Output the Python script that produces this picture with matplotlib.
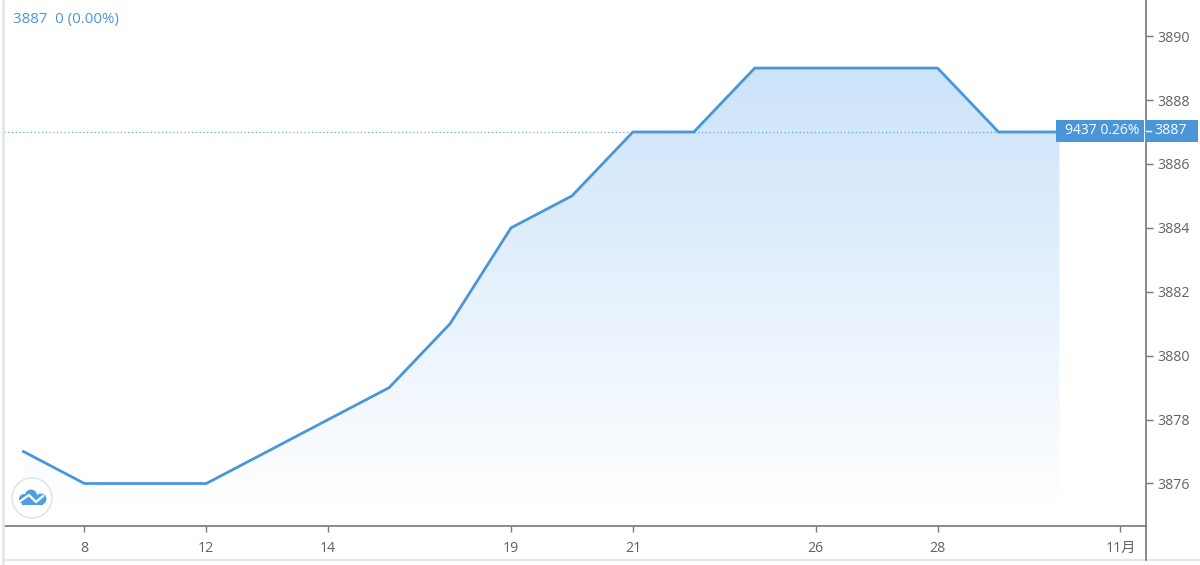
import numpy as np
import matplotlib
matplotlib.use('Agg')
import matplotlib.pyplot as plt
from matplotlib.patches import Circle, Polygon, Rectangle

plt.rcParams['font.family'] = ['Open Sans', 'Noto Sans CJK SC', 'DejaVu Sans']

# one point per trading day
prices = [3877, 3876, 3876, 3876, 3877, 3878, 3879, 3881, 3884,
          3885, 3887, 3887, 3889, 3889, 3889, 3889, 3887, 3887]
x_tick_pos = [1, 3, 5, 8, 10, 13, 15, 18]
x_tick_labels = ['8', '12', '14', '19', '21', '26', '28', '11月']
y_ticks = [3876, 3878, 3880, 3882, 3884, 3886, 3888, 3890]
last_price = 3887
header_text = '3887  0 (0.00%)'
volume_text = '9437 0.26%'

BLUE = '#4a96d9'
GREY = '#5f6368'
AXIS = '#74777c'
W, H = 1200, 565

fig = plt.figure(figsize=(12, 5.65), dpi=100)
ax = fig.add_axes([4 / W, 1 - 526 / H, (1146 - 4) / W, 526 / H])
days = np.arange(len(prices))
xlim = (-0.32, 18.42)
ylim = (3874.67, 3891.13)

# gradient under the line, light blue fading to white
base = ylim[0]
top = max(prices)
fade = np.linspace(0, 1, 256).reshape(-1, 1, 1)
colors = np.array([0.80, 0.89, 0.98]) * (1 - fade) + np.array([1.0, 1.0, 1.0]) * fade
img = ax.imshow(colors, extent=[days[0], days[-1], 3875.2, top], origin='upper',
                aspect='auto', zorder=1)
area = Polygon(list(zip(days, prices)) + [(days[-1], base), (days[0], base)],
               closed=True, transform=ax.transData, fc='none', ec='none')
ax.add_patch(area)
img.set_clip_path(area)
ax.set_xlim(xlim)
ax.set_ylim(ylim)

ax.plot(days, prices, color=BLUE, lw=2, zorder=3, solid_joinstyle='miter')
ax.axhline(last_price, color=BLUE, lw=0.9, ls=(0, (1, 2)), alpha=0.85, zorder=2)

ax.set_xticks(x_tick_pos)
ax.set_xticklabels(x_tick_labels)
ax.set_yticks(y_ticks)
ax.set_yticklabels([str(v) for v in y_ticks])
ax.yaxis.tick_right()
ax.tick_params(axis='x', length=4, width=1, color=AXIS, labelcolor=GREY, labelsize=10.2, pad=7)
ax.tick_params(axis='y', length=5, width=1, color=AXIS, labelcolor=GREY, labelsize=10.2, pad=3.5)
for s in ['top', 'left']:
    ax.spines[s].set_visible(False)
for s in ['right', 'bottom']:
    ax.spines[s].set_color(AXIS)
    ax.spines[s].set_linewidth(1.2)

# page-level overlay in pixel coordinates
ov = fig.add_axes([0, 0, 1, 1], facecolor='none')
ov.set_xlim(0, W)
ov.set_ylim(H, 0)
ov.axis('off')
ov.plot([3, 3], [0, 565], color='#e6e7e9', lw=2)
ov.plot([3, 1200], [560, 560], color='#e6e7e9', lw=1.5)
ov.plot([1146, 1146], [526, 560], color=AXIS, lw=1.2)

ov.text(13, 19.5, header_text, color=BLUE, fontsize=10.8, va='center', ha='left')

# price labels at the right
ov.add_patch(Rectangle((1056, 120), 88, 22, fc=BLUE, ec='none'))
ov.add_patch(Rectangle((1146, 120), 52, 22, fc=BLUE, ec='none'))
ov.plot([1146, 1151], [131, 131], color='white', lw=1)
ov.text(1102, 131, volume_text, color='white', fontsize=10, va='center', ha='center')
ov.text(1171, 131, str(last_price), color='white', fontsize=10.2, va='center', ha='center')

# logo badge
ov.add_patch(Circle((32, 498), 20, fc='white', ec='#e4e5e7', lw=1.2))
logo_blue = '#4f9fe0'
ov.add_patch(Circle((24, 499), 5, fc=logo_blue, ec='none'))
ov.add_patch(Circle((31, 495.5), 6, fc=logo_blue, ec='none'))
ov.add_patch(Circle((41, 499), 5.5, fc=logo_blue, ec='none'))
ov.add_patch(Rectangle((22, 499), 21, 6, fc=logo_blue, ec='none'))
ov.plot([19, 29, 36, 43], [502, 495, 502, 496], color='white', lw=1.6)

fig.savefig('out.png', dpi=100)
